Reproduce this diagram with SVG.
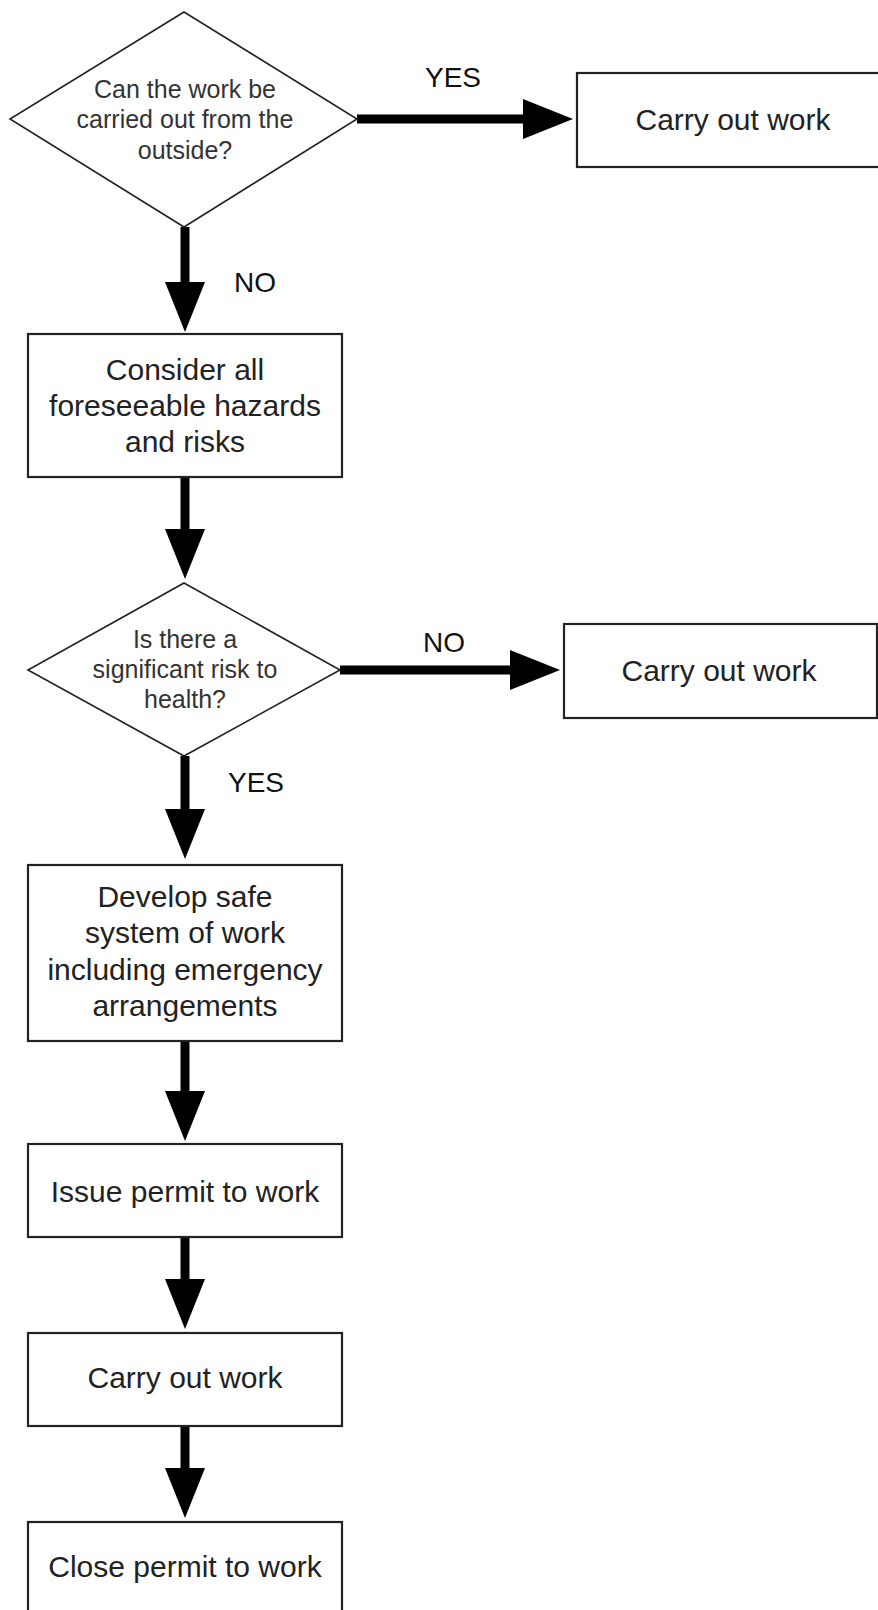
<svg xmlns="http://www.w3.org/2000/svg" width="878" height="1610" viewBox="0 0 878 1610">
<style>
.box{fill:#fff;stroke:#222;stroke-width:2.2}
.dia{fill:#fff;stroke:#222;stroke-width:1.6}
.t{font-family:"Liberation Sans",Arial,sans-serif;font-size:30px;fill:#222;text-anchor:middle}
.td{font-family:"Liberation Sans",Arial,sans-serif;font-size:25px;fill:#333;text-anchor:middle}
.lbl{font-family:"Liberation Sans",Arial,sans-serif;font-size:28px;fill:#111;text-anchor:middle}
.con{stroke:#000;stroke-width:9;fill:none;marker-end:url(#ah)}
</style>
<defs>
<marker id="ah" markerUnits="userSpaceOnUse" markerWidth="50" markerHeight="40" refX="10" refY="20" orient="auto" overflow="visible">
<path d="M0,0 L50,20 L0,40 Z" fill="#000"/>
</marker>
</defs>
<rect width="878" height="1610" fill="#fff"/>
<g id="connectors">
<path class="con" d="M357,119 H533"/>
<path class="con" d="M185,227 V292"/>
<path class="con" d="M185,477 V539"/>
<path class="con" d="M340,670 H520"/>
<path class="con" d="M185,756 V819"/>
<path class="con" d="M185,1041 V1101"/>
<path class="con" d="M185,1237 V1289"/>
<path class="con" d="M185,1426 V1478"/>
<text class="lbl" x="453" y="87">YES</text>
<text class="lbl" x="255" y="292">NO</text>
<text class="lbl" x="444" y="652">NO</text>
<text class="lbl" x="256" y="792">YES</text>
</g>
<g id="d1">
<polygon class="dia" points="184,12 357,119 184,227 10,119"/>
<text class="td" x="185" y="98">Can the work be</text>
<text class="td" x="185" y="128">carried out from the</text>
<text class="td" x="185" y="159">outside?</text>
</g>
<g id="b1">
<rect class="box" x="577" y="73" width="314" height="94"/>
<text class="t" x="733" y="130">Carry out work</text>
</g>
<g id="b2">
<rect class="box" x="28" y="334" width="314" height="143"/>
<text class="t" x="185" y="380">Consider all</text>
<text class="t" x="185" y="416">foreseeable hazards</text>
<text class="t" x="185" y="452">and risks</text>
</g>
<g id="d2">
<polygon class="dia" points="184,583 340,670 184,756 28,670"/>
<text class="td" x="185" y="648">Is there a</text>
<text class="td" x="185" y="678">significant risk to</text>
<text class="td" x="185" y="708">health?</text>
</g>
<g id="b3">
<rect class="box" x="564" y="624" width="313" height="94"/>
<text class="t" x="719" y="681">Carry out work</text>
</g>
<g id="b4">
<rect class="box" x="28" y="865" width="314" height="176"/>
<text class="t" x="185" y="907">Develop safe</text>
<text class="t" x="185" y="943">system of work</text>
<text class="t" x="185" y="980">including emergency</text>
<text class="t" x="185" y="1016">arrangements</text>
</g>
<g id="b5">
<rect class="box" x="28" y="1144" width="314" height="93"/>
<text class="t" x="185" y="1202">Issue permit to work</text>
</g>
<g id="b6">
<rect class="box" x="28" y="1333" width="314" height="93"/>
<text class="t" x="185" y="1388">Carry out work</text>
</g>
<g id="b7">
<rect class="box" x="28" y="1522" width="314" height="100"/>
<text class="t" x="185" y="1577">Close permit to work</text>
</g>
</svg>
